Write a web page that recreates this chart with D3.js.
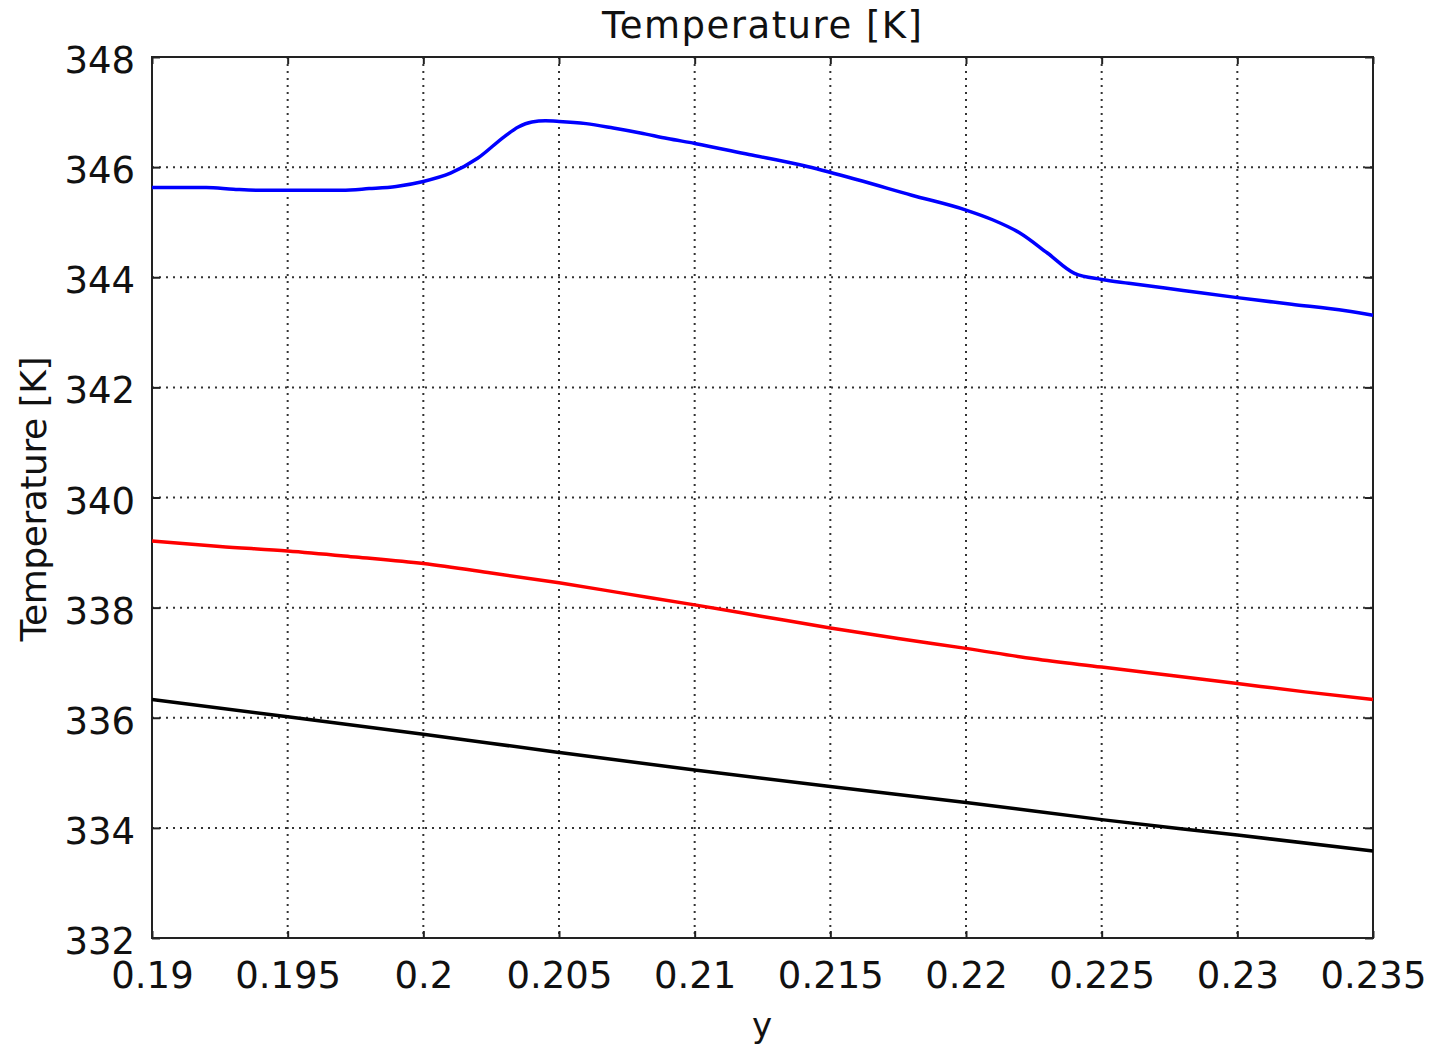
<!DOCTYPE html>
<html>
<head>
<meta charset="utf-8">
<script src="https://cdn.jsdelivr.net/npm/d3@7"></script>
<style>
  body { margin: 0; background: #fff; }
  text { font-family: "DejaVu Sans", Verdana, sans-serif; fill: #111; }
</style>
</head>
<body>
<svg width="1445" height="1049"></svg>
<script>
// x positions (y coordinate in the model) and temperatures
var blueX = [0.190, 0.192, 0.193, 0.194, 0.196, 0.197, 0.198, 0.199, 0.200, 0.201, 0.202, 0.203, 0.2035, 0.204, 0.2045, 0.205, 0.206, 0.207, 0.208, 0.209, 0.210, 0.212, 0.214, 0.216, 0.218, 0.220, 0.221, 0.222, 0.223, 0.224, 0.225, 0.226, 0.228, 0.230, 0.232, 0.234, 0.235];
var blueT = [345.63, 345.63, 345.60, 345.58, 345.58, 345.58, 345.61, 345.65, 345.74, 345.89, 346.16, 346.56, 346.73, 346.82, 346.84, 346.83, 346.79, 346.71, 346.62, 346.52, 346.43, 346.23, 346.03, 345.77, 345.49, 345.22, 345.04, 344.80, 344.44, 344.07, 343.96, 343.89, 343.76, 343.63, 343.51, 343.39, 343.31];

var redX = [0.190, 0.1925, 0.195, 0.1975, 0.200, 0.2025, 0.205, 0.2075, 0.210, 0.2125, 0.215, 0.2175, 0.220, 0.2225, 0.225, 0.2275, 0.230, 0.2325, 0.235];
var redT = [339.21, 339.11, 339.03, 338.92, 338.80, 338.63, 338.45, 338.25, 338.05, 337.84, 337.63, 337.44, 337.26, 337.07, 336.92, 336.77, 336.62, 336.47, 336.33];

var blackX = [0.190, 0.195, 0.200, 0.205, 0.210, 0.215, 0.220, 0.225, 0.230, 0.235];
var blackT = [336.33, 336.02, 335.70, 335.37, 335.05, 334.75, 334.46, 334.15, 333.87, 333.58];

var xTicks = [0.19, 0.195, 0.2, 0.205, 0.21, 0.215, 0.22, 0.225, 0.23, 0.235];
var yTicks = [332, 334, 336, 338, 340, 342, 344, 346, 348];

var svg = d3.select("svg"),
    margin = {top: 57, right: 72, bottom: 111, left: 152},
    width = +svg.attr("width") - margin.left - margin.right,
    height = +svg.attr("height") - margin.top - margin.bottom,
    g = svg.append("g").attr("transform", "translate(" + margin.left + "," + margin.top + ")");

var x = d3.scaleLinear().domain([0.19, 0.235]).range([0, width]);
var y = d3.scaleLinear().domain([332, 348]).range([height, 0]);

// dotted grid
g.append("g")
    .selectAll("line")
    .data(xTicks.slice(1, -1))
    .enter().append("line")
    .attr("x1", function(d) { return x(d); })
    .attr("x2", function(d) { return x(d); })
    .attr("y1", 0).attr("y2", height)
    .attr("stroke", "#333").attr("stroke-width", 2)
    .attr("stroke-dasharray", "2,5");

g.append("g")
    .selectAll("line")
    .data(yTicks.slice(1, -1))
    .enter().append("line")
    .attr("y1", function(d) { return y(d); })
    .attr("y2", function(d) { return y(d); })
    .attr("x1", 0).attr("x2", width)
    .attr("stroke", "#333").attr("stroke-width", 2)
    .attr("stroke-dasharray", "2,5");

// axes with inward ticks
function styleAxis(sel) {
  sel.select(".domain").remove();
  sel.selectAll(".tick line").attr("stroke", "#222").attr("stroke-width", 2);
}

g.append("g")
    .attr("transform", "translate(0," + height + ")")
    .call(d3.axisBottom(x).tickValues(xTicks).tickSizeInner(-7).tickSizeOuter(0).tickPadding(24).tickFormat(d3.format("")))
    .call(styleAxis)
    .selectAll("text")
    .attr("font-size", 37)
    .attr("fill", "#111")
    .attr("dy", "0.71em");

g.append("g")
    .call(d3.axisLeft(y).tickValues(yTicks).tickSizeInner(-8).tickSizeOuter(0).tickPadding(17))
    .call(styleAxis)
    .selectAll("text")
    .attr("font-size", 37)
    .attr("fill", "#111")
    .attr("dy", "0.42em");

g.append("g")
    .call(d3.axisTop(x).tickValues(xTicks).tickSizeInner(-7).tickSizeOuter(0).tickFormat(""))
    .call(styleAxis);

g.append("g")
    .attr("transform", "translate(" + width + ",0)")
    .call(d3.axisRight(y).tickValues(yTicks).tickSizeInner(-8).tickSizeOuter(0).tickFormat(""))
    .call(styleAxis);

// frame
g.append("rect")
    .attr("width", width).attr("height", height)
    .attr("fill", "none").attr("stroke", "#222").attr("stroke-width", 2);

// curves
var series = [
  {xs: blueX, ts: blueT, color: "#0000ff"},
  {xs: redX, ts: redT, color: "#ff0000"},
  {xs: blackX, ts: blackT, color: "#000000"}
];

var line = d3.line()
    .x(function(d) { return x(d[0]); })
    .y(function(d) { return y(d[1]); })
    .curve(d3.curveMonotoneX);

series.forEach(function(s) {
  g.append("path")
      .datum(d3.zip(s.xs, s.ts))
      .attr("fill", "none")
      .attr("stroke", s.color)
      .attr("stroke-width", 3.5)
      .attr("stroke-linejoin", "round")
      .attr("d", line);
});

// titles
svg.append("text")
    .attr("x", 762).attr("y", 38)
    .attr("text-anchor", "middle")
    .attr("font-size", 37)
    .attr("textLength", 320)
    .text("Temperature [K]");

svg.append("text")
    .attr("transform", "translate(46,499) rotate(-90)")
    .attr("text-anchor", "middle")
    .attr("font-size", 36)
    .attr("textLength", 285)
    .text("Temperature [K]");

svg.append("text")
    .attr("x", 762).attr("y", 1037)
    .attr("text-anchor", "middle")
    .attr("font-size", 34)
    .text("y");
</script>
</body>
</html>
